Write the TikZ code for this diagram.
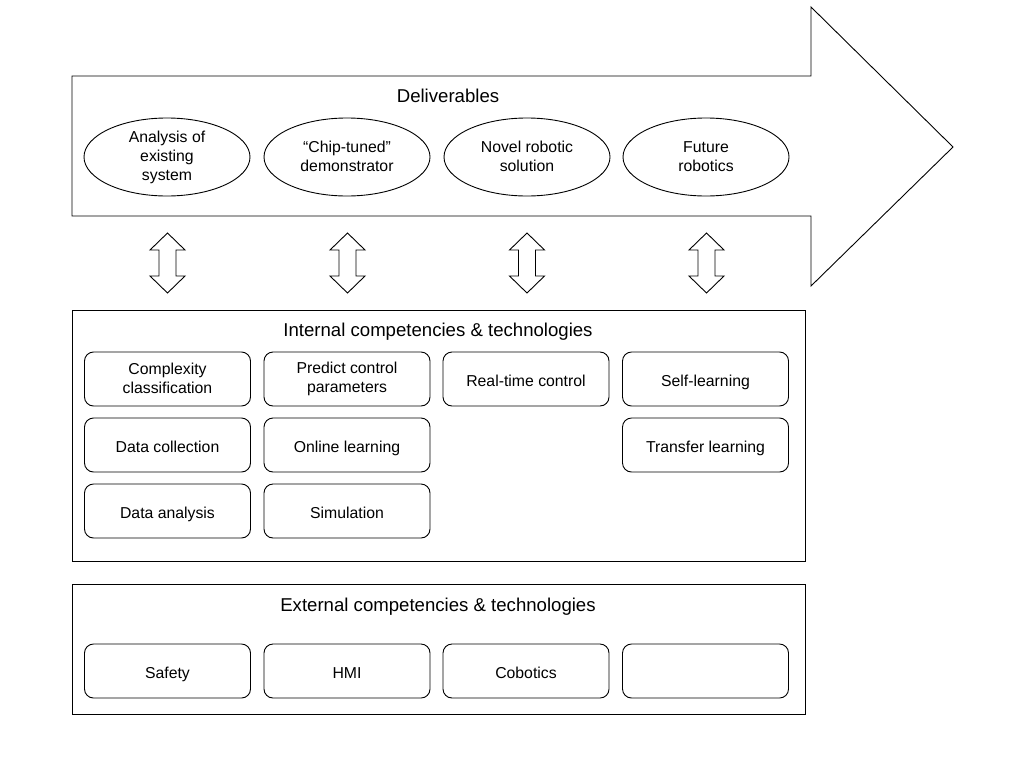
\documentclass[tikz,border=0pt]{standalone}
\usepackage{fontspec}
\setmainfont{Liberation Sans}
\usetikzlibrary{shapes.geometric}
\newcommand{\mystrut}{\rule[-1.7pt]{0pt}{19pt}}
\begin{document}
\begin{tikzpicture}[x=1pt,y=-1pt,
  line/.style={draw=black,line width=0.9pt,line join=miter},
  txt/.style={font=\fontsize{15.8}{19}\selectfont,execute at begin node=\mystrut,execute at end node=\mystrut},
  deliv/.style={ellipse,draw=black,line width=0.9pt,minimum width=166pt,minimum height=78pt,inner sep=0pt,align=center,txt},
  comp/.style={rectangle,rounded corners=9pt,draw=black,line width=0.9pt,minimum width=166pt,minimum height=54pt,inner sep=0pt,align=center,txt},
  title/.style={font=\fontsize{18.6}{22}\selectfont,inner sep=0pt,execute at begin node=\strut},
  panel/.style={rectangle,draw=black,line width=0.9pt,inner sep=0pt}]
\useasboundingbox (0,0) rectangle (1024,768);
% big arrow
\draw[line] (72,76) -- (811,76) -- (811,7) -- (953,147) -- (811,286) -- (811,216) -- (72,216) -- cycle;
\node[title] (dtitle) at (448,98.5) {Deliverables};
\node[deliv] (d1) at (167,157) {Analysis of\\existing\\system};
\node[deliv] (d2) at (347,157) {“Chip-tuned”\\demonstrator};
\node[deliv] (d3) at (527,157) {Novel robotic\\solution};
\node[deliv] (d4) at (706,157) {Future\\robotics};
% double arrows
\foreach \cx in {167.5,347.5,527,706.5}{
  \draw[line] (\cx,233) -- (\cx+17.5,250) -- (\cx+8.5,250) -- (\cx+8.5,276) -- (\cx+17.5,276) -- (\cx,293) -- (\cx-17.5,276) -- (\cx-8.5,276) -- (\cx-8.5,250) -- (\cx-17.5,250) -- cycle;
}
% internal panel
\node[panel,minimum width=733pt,minimum height=251pt] (ipanel) at (438.5,435.5) {};
\node[title] (ititle) at (438,332) {Internal competencies \& technologies};
\node[comp] (i11) at (167.5,379) {Complexity\\classification};
\node[comp] (i12) at (347,379) {Predict control\\parameters};
\node[comp] (i13) at (526,379) {Real-time control};
\node[comp] (i14) at (705.5,379) {Self-learning};
\node[comp] (i21) at (167.5,445) {Data collection};
\node[comp] (i22) at (347,445) {Online learning};
\node[comp] (i24) at (705.5,445) {Transfer learning};
\node[comp] (i31) at (167.5,511) {Data analysis};
\node[comp] (i32) at (347,511) {Simulation};
% external panel
\node[panel,minimum width=733pt,minimum height=130pt] (epanel) at (438.5,649) {};
\node[title] (etitle) at (438,607) {External competencies \& technologies};
\node[comp] (e1) at (167.5,671) {Safety};
\node[comp] (e2) at (347,671) {HMI};
\node[comp] (e3) at (526,671) {Cobotics};
\node[comp] (e4) at (705.5,671) {};
\end{tikzpicture}
\end{document}
